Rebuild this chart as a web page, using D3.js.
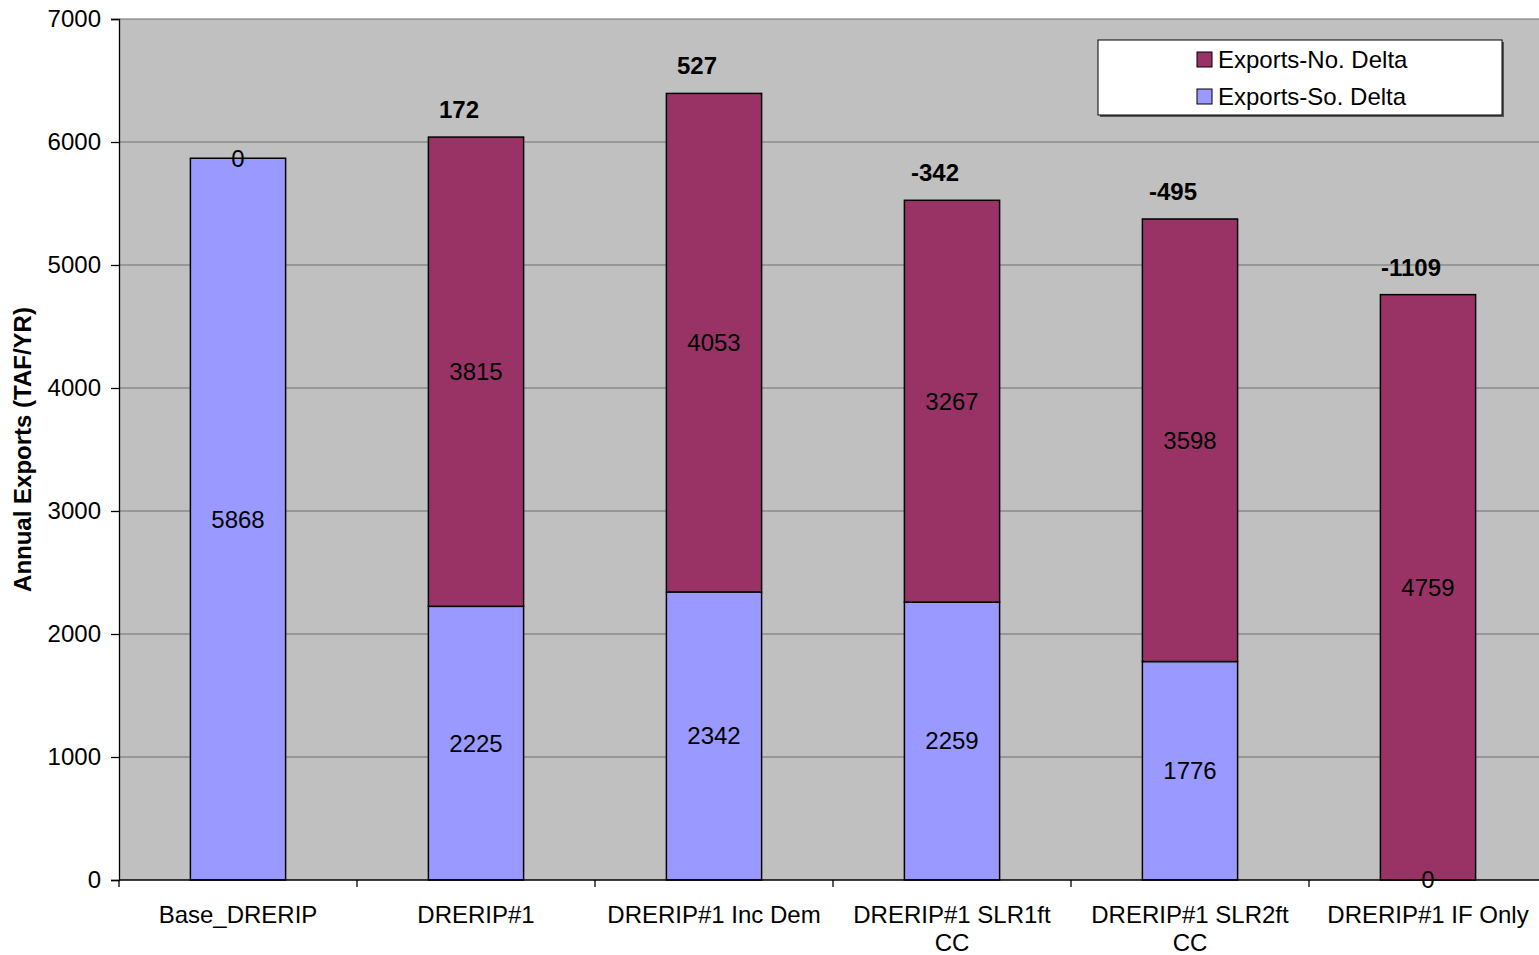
<!DOCTYPE html>
<html>
<head>
<meta charset="utf-8">
<script src="https://cdn.jsdelivr.net/npm/d3@7"></script>
<style>
  html, body { margin: 0; padding: 0; background: #ffffff; }
  svg { display: block; font-family: "Liberation Sans", Arial, sans-serif; }
</style>
</head>
<body>
<svg id="chart" width="1539" height="955"></svg>
<script>
// Scenario names ("|" marks where an axis label wraps)
const categories = ["Base_DRERIP", "DRERIP#1", "DRERIP#1 Inc Dem", "DRERIP#1 SLR1ft|CC", "DRERIP#1 SLR2ft|CC", "DRERIP#1 IF Only"];
// Annual exports, TAF/YR
const soDelta = [5868, 2225, 2342, 2259, 1776, 0];
const noDelta = [0, 3815, 4053, 3267, 3598, 4759];
// Change in total exports relative to the base scenario
const changeLabels = [null, 172, 527, -342, -495, -1109];
const yTicks = [0, 1000, 2000, 3000, 4000, 5000, 6000, 7000];

const seriesNames = ["Exports-No. Delta", "Exports-So. Delta"];
const colors = { "Exports-No. Delta": "#993366", "Exports-So. Delta": "#9999FF" };

const svg = d3.select("#chart");
const plot = { left: 119, top: 19, right: 1547, bottom: 880 };

const x = d3.scaleBand().domain(categories).range([plot.left, plot.right]).paddingInner(0.6).paddingOuter(0.3);
const xOuter = d3.scaleBand().domain(categories).range([plot.left, plot.right]);
const y = d3.scaleLinear().domain([0, 7000]).range([plot.bottom, plot.top]);

// plot background
svg.append("rect")
  .attr("x", plot.left).attr("y", plot.top)
  .attr("width", plot.right - plot.left).attr("height", plot.bottom - plot.top)
  .attr("fill", "#C0C0C0");

// gridlines
svg.append("g").selectAll("line").data(yTicks.filter(d => d > 0)).join("line")
  .attr("x1", plot.left).attr("x2", plot.right)
  .attr("y1", d => y(d)).attr("y2", d => y(d))
  .attr("stroke", "#6e6e6e").attr("stroke-width", 1.2);

// stacked data
const rows = categories.map((c, i) => ({ cat: c, "Exports-So. Delta": soDelta[i], "Exports-No. Delta": noDelta[i] }));
const stack = d3.stack().keys(["Exports-So. Delta", "Exports-No. Delta"]);
const layers = stack(rows);

const gBars = svg.append("g");
layers.forEach(layer => {
  gBars.append("g").selectAll("rect").data(layer.filter(d => d[1] - d[0] > 0)).join("rect")
    .attr("x", d => x(d.data.cat))
    .attr("width", x.bandwidth())
    .attr("y", d => y(d[1]))
    .attr("height", d => y(d[0]) - y(d[1]))
    .attr("fill", colors[layer.key])
    .attr("stroke", "#000").attr("stroke-width", 1.5);
});

// segment value labels
layers.forEach(layer => {
  svg.append("g").selectAll("text").data(layer).join("text")
    .attr("x", d => x(d.data.cat) + x.bandwidth() / 2)
    .attr("y", d => y((d[0] + d[1]) / 2))
    .attr("dy", "0.35em")
    .attr("text-anchor", "middle")
    .attr("font-size", 24)
    .attr("fill", "#000")
    .text(d => d[1] - d[0]);
});

// change labels above bars
svg.append("g").selectAll("text").data(categories.map((c, i) => ({ cat: c, total: soDelta[i] + noDelta[i], v: changeLabels[i] })).filter(d => d.v !== null)).join("text")
  .attr("x", d => x(d.cat) + x.bandwidth() / 2 - 17)
  .attr("y", d => y(d.total) - 19)
  .attr("text-anchor", "middle")
  .attr("font-size", 24)
  .attr("font-weight", "bold")
  .attr("fill", "#000")
  .text(d => d.v);

// y axis
const yAxis = svg.append("g").attr("transform", `translate(${plot.left},0)`)
  .call(d3.axisLeft(y).tickValues(yTicks).tickSize(8).tickPadding(10).tickFormat(d3.format("d")));
yAxis.select(".domain").attr("stroke", "#000").attr("stroke-width", 1.3);
yAxis.selectAll(".tick line").attr("stroke", "#000").attr("stroke-width", 1.3);
yAxis.selectAll(".tick text").attr("font-size", 24).attr("fill", "#000")
  .attr("font-family", "Liberation Sans, Arial, sans-serif");

// x axis
const xAxisG = svg.append("g").attr("transform", `translate(0,${plot.bottom})`);
xAxisG.append("line").attr("x1", plot.left).attr("x2", plot.right).attr("y1", 0).attr("y2", 0)
  .attr("stroke", "#000").attr("stroke-width", 1.3);
const boundaries = categories.map(c => xOuter(c)).concat([plot.right]);
xAxisG.selectAll("line.tk").data(boundaries).join("line").attr("class", "tk")
  .attr("x1", d => d).attr("x2", d => d).attr("y1", 0).attr("y2", 7)
  .attr("stroke", "#000").attr("stroke-width", 1.3);
const xl = xAxisG.selectAll("text").data(categories).join("text")
  .attr("x", d => xOuter(d) + xOuter.bandwidth() / 2)
  .attr("y", 43)
  .attr("text-anchor", "middle")
  .attr("font-size", 24)
  .attr("fill", "#000");
xl.each(function(d) {
  const parts = d.split("|");
  const t = d3.select(this);
  parts.forEach((p, i) => {
    t.append("tspan").attr("x", xOuter(d) + xOuter.bandwidth() / 2).attr("dy", i === 0 ? 0 : 28).text(p);
  });
});

// y axis title
svg.append("text")
  .attr("transform", `translate(31,${(plot.top + plot.bottom) / 2}) rotate(-90)`)
  .attr("text-anchor", "middle")
  .attr("font-size", 24)
  .attr("font-weight", "bold")
  .attr("fill", "#000")
  .text("Annual Exports (TAF/YR)");

// legend
const lg = svg.append("g").attr("transform", "translate(1098,40)");
lg.append("rect").attr("x", 2).attr("y", 2).attr("width", 404).attr("height", 75).attr("fill", "#555");
lg.append("rect").attr("x", 0).attr("y", 0).attr("width", 404).attr("height", 75)
  .attr("fill", "#fff").attr("stroke", "#000").attr("stroke-width", 1);
seriesNames.forEach((name, i) => {
  const row = lg.append("g").attr("transform", `translate(99,${12 + i * 37})`);
  row.append("rect").attr("x", 0).attr("y", 0).attr("width", 15).attr("height", 15)
    .attr("fill", colors[name]).attr("stroke", "#000").attr("stroke-width", 1);
  row.append("text").attr("x", 21).attr("y", 8).attr("dy", "0.35em")
    .attr("font-size", 24).attr("fill", "#000").text(name);
});
</script>
</body>
</html>
